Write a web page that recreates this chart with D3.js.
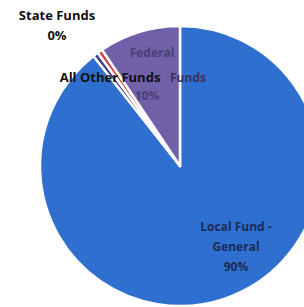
<!DOCTYPE html>
<html>
<head>
<meta charset="utf-8">
<script src="https://cdn.jsdelivr.net/npm/d3@7"></script>
<style>
  body { margin: 0; background: #fff; }
  svg { display: block; }
  text { font-family: "Open Sans", sans-serif; font-weight: bold; }
</style>
</head>
<body>
<div id="chart"></div>
<script>
// funding sources, clockwise from 12 o'clock
const sources = ["Local Fund - General", "All Other Funds", "State Funds", "Federal Funds"];
const shares = [89.4, 0.6, 0.6, 9.4];
const colors = ["#2f6fd0", "#3a3a86", "#d2403c", "#7060a8"];

const width = 304, height = 307;
const cx = 180, cy = 166, radius = 140;

const svg = d3.select("#chart").append("svg")
    .attr("width", width)
    .attr("height", height);

const pie = d3.pie().sort(null).value(d => d.value);
const arc = d3.arc().innerRadius(0).outerRadius(radius);

const data = sources.map((s, i) => ({ name: s, value: shares[i], color: colors[i] }));

const g = svg.append("g").attr("transform", "translate(" + cx + "," + cy + ")");

g.selectAll("path")
    .data(pie(data))
    .enter().append("path")
    .attr("d", arc)
    .attr("fill", d => d.data.color)
    .attr("stroke", "#fff")
    .attr("stroke-width", 2.5)
    .attr("stroke-linejoin", "round");

// labels (placed as in the original, some sit close together)
const labels = [
    { lines: ["Local Fund -", "General", "90%"], x: 236, y: 231, dy: 20, color: "#1b2c55", size: 12 },
    { lines: ["State Funds", "0%"], x: 57, y: 20, dy: 20, color: "#111", size: 13 },
    { lines: ["Federal"], x: 152, y: 57, dy: 20, color: "#4a3f78", size: 12 },
    { lines: ["Funds"], x: 188, y: 82, dy: 20, color: "#3a3260", size: 12 },
    { lines: ["10%"], x: 147, y: 100, dy: 20, color: "#4a3f78", size: 12 },
    { lines: ["All Other Funds"], x: 110, y: 82, dy: 20, color: "#111", size: 13 }
];

labels.forEach(l => {
    const t = svg.append("text")
        .attr("text-anchor", "middle")
        .attr("fill", l.color)
        .style("font-size", l.size + "px");
    l.lines.forEach((line, i) => {
        t.append("tspan")
            .attr("x", l.x)
            .attr("y", l.y + i * l.dy)
            .text(line);
    });
});
</script>
</body>
</html>
